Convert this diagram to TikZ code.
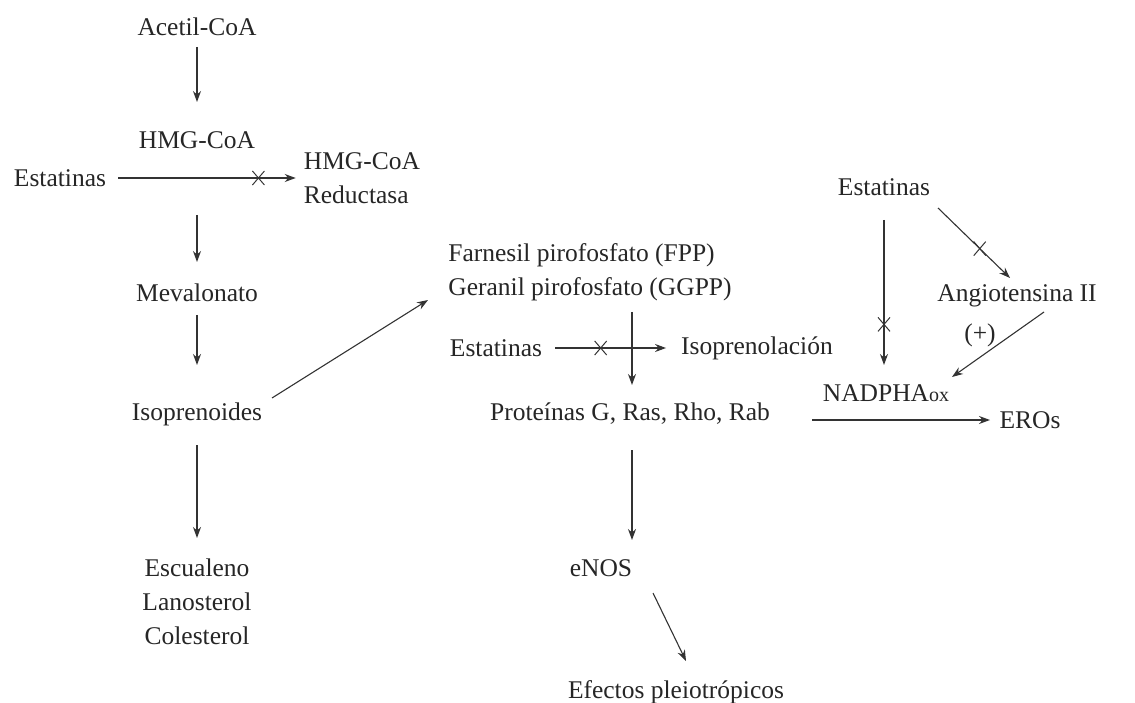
\documentclass[tikz,border=0pt]{standalone}
\usepackage{fontspec}
\setmainfont{Liberation Serif}
\usetikzlibrary{arrows.meta,calc,shapes.misc}
\begin{document}
\begin{tikzpicture}[x=1pt,y=-1pt,
  lbl/.style={inner sep=0pt, font=\fontsize{25.5}{34}\selectfont, text=black!85},
  arr/.style={draw=black!80, line width=1.1pt, -{Stealth[length=11pt,width=8pt]}},
  xmark/.style={draw=black!80, cross out, minimum width=11pt, minimum height=13pt, inner sep=0pt, line width=1pt}]
\path[use as bounding box] (0,0) rectangle (1135,703);
% left column
\node[lbl] (acetil) at (197,27) {Acetil-CoA};
\node[lbl] (hmg) at (197,140) {HMG-CoA};
\node[lbl] (est1) at (60,178) {Estatinas};
\node[lbl, align=left] (red) at (362,178) {HMG-CoA\\Reductasa};
\node[lbl] (mev) at (197,293) {Mevalonato};
\node[lbl] (iso) at (197,414) {Isoprenoides};
\node[lbl, align=center] (esc) at (197,602) {Escualeno\\Lanosterol\\Colesterol};
% middle
\node[lbl, align=left] (fpp) at (590,272) {Farnesil pirofosfato (FPP)\\Geranil pirofosfato (GGPP)};
\node[lbl] (est2) at (496,348) {Estatinas};
\node[lbl] (isopren) at (757,348) {Isoprenolación};
\node[lbl] (prot) at (630,414) {Proteínas G, Ras, Rho, Rab};
\node[lbl] (enos) at (601,568) {eNOS};
\node[lbl] (efec) at (676,692) {Efectos pleiotrópicos};
% right
\node[lbl] (est3) at (884,187) {Estatinas};
\node[lbl] (ang) at (1017,296) {Angiotensina II};
\node[lbl] (plus) at (980,335) {(+)};
\node[lbl] (nadph) at (886,393) {NADPHA{\fontsize{20}{20}\selectfont ox}};
\node[lbl] (eros) at (1030,420) {EROs};
% connectors
\draw[arr] ($(acetil)+(0,20)$) -- ($(hmg)+(0,-38)$);
\draw[arr] ($(est1.east)+(12,0)$) -- node[pos=0.79, xmark]{} ($(red.west)+(-8,0)$);
\draw[arr] ($(hmg)+(0,75)$) -- ($(mev)+(0,-31)$);
\draw[arr] ($(mev)+(0,22)$) -- ($(iso)+(0,-49)$);
\draw[arr] ($(iso)+(0,31)$) -- ($(esc)+(0,-64)$);
\draw[arr] ($(iso)+(75,-16)$) -- ($(fpp)+(-162,28)$);
\draw[arr] ($(fpp)+(42,40)$) -- ($(prot)+(2,-29)$);
\draw[arr] ($(est2.east)+(13,0)$) -- node[pos=0.41, xmark]{} ($(isopren.west)+(-15,0)$);
\draw[arr] ($(prot)+(2,36)$) -- ($(enos)+(31,-28)$);
\draw[arr] ($(enos)+(52,25)$) -- ($(efec)+(10,-31)$);
\draw[arr] ($(est3)+(0,33)$) -- node[pos=0.72, xmark]{} ($(nadph)+(-2,-28)$);
\draw[arr] ($(est3)+(54,21)$) -- node[pos=0.58, xmark]{} ($(ang)+(-7,-18)$);
\draw[arr] ($(ang)+(27,16)$) -- ($(nadph)+(66,-16)$);
\draw[arr] ($(prot)+(182,6)$) -- ($(eros)+(-40,0)$);
\end{tikzpicture}
\end{document}
